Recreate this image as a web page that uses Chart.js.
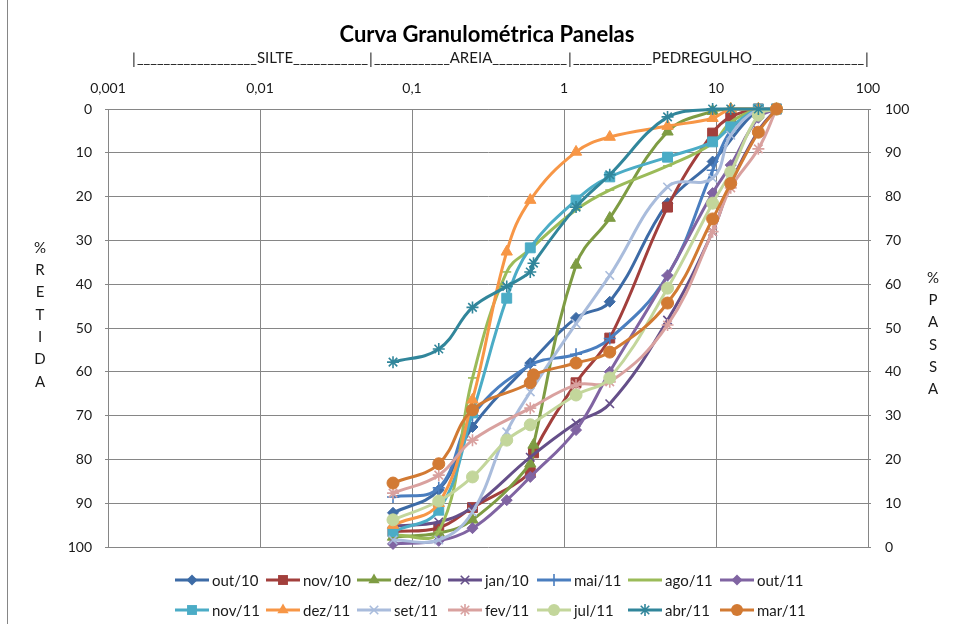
<!DOCTYPE html>
<html><head><meta charset="utf-8">
<script src="https://cdn.jsdelivr.net/npm/chart.js@4.4.1/dist/chart.umd.min.js"></script>
<style>html,body{margin:0;padding:0;background:#fff}canvas{display:block}</style>
</head><body>
<canvas id="c" width="953" height="624"></canvas>
<script>
// ---- data ----
const chartTitle = 'Curva Granulométrica Panelas';
const zoneLabels = ['SILTE', 'AREIA', 'PEDREGULHO'];
const xTicks = [0.001, 0.01, 0.1, 1, 10, 100];
const xTickLabels = ['0,001', '0,01', '0,1', '1', '10', '100'];
const leftTitle = '%RETIDA';
const rightTitle = '%PASSA';
// sieve openings (mm)
const sizes = [0.075, 0.15, 0.25, 0.42, 0.6, 0.63, 1.2, 2.0, 4.8, 9.5, 12.5, 19, 25];
const seriesNames = ['out/10','nov/10','dez/10','jan/10','mai/11','ago/11','out/11','nov/11','dez/11','set/11','fev/11','jul/11','abr/11','mar/11'];
const out10 = [92.2, 87.0, 72.6, null, 58.0, null, 47.7, 44.0, 21.5, 12.0, null, 0, 0];
const nov10 = [96.5, 95.6, 91.0, null, 83.0, 78.5, 62.5, 52.3, 22.4, 5.5, 1.8, 0, 0];
const dez10 = [97.7, 96.8, 93.8, null, 81.0, 76.7, 35.6, 24.9, 5.2, 0.5, 0, 0, 0];
const jan10 = [95.2, 94.3, 90.9, null, 79.5, null, 71.7, 67.3, 48.2, 28.0, 17.0, 5.0, 0];
const mai11 = [88.6, 86.5, 70.0, null, 58.5, null, 56.0, 52.4, 38.0, 14.0, 5.0, 0, 0];
const ago11 = [97.3, 96.5, 61.4, 37.2, 32.0, null, 23.0, 18.5, 13.0, 7.8, 3.0, 0, 0];
const out11 = [99.3, 98.6, 95.7, 89.3, 84.0, null, 73.3, 60.0, 38.0, 19.2, 12.8, 2.0, 0];
const nov11 = [96.5, 91.6, 69.4, 43.2, 31.7, null, 20.8, 15.5, 11.0, 7.5, 4.1, 0, 0];
const dez11 = [95.0, 90.0, 66.4, 32.6, 20.8, null, 9.8, 6.4, 3.9, 2.1, 0, 0, 0];
const set11 = [98.4, 98.4, 92.0, 73.7, 64.6, null, 49.0, 38.0, 17.8, 15.8, 6.0, 0, 0];
const fev11 = [87.7, 83.6, 75.6, null, 68.3, null, 63.0, 62.3, 49.3, 28.0, 18.0, 9.1, 0];
const jul11 = [93.8, 89.5, 84.0, 75.6, 72.1, null, 65.3, 61.4, 40.9, 21.5, 14.4, 1.4, 0];
const abr11 = [57.8, 54.8, 45.3, 40.5, 37.2, 35.2, 22.4, 15.0, 1.8, 0, 0, 0, 0];
const mar11 = [85.4, 81.0, 68.7, null, 62.5, 60.7, 58.0, 55.5, 44.3, 25.1, 17.0, 5.3, 0];
const seriesValues = [out10, nov10, dez10, jan10, mai11, ago11, out11, nov11, dez11, set11, fev11, jul11, abr11, mar11];

// ---- styles ----
const colors = ['#3D6BA6','#A23F3C','#7E9C43','#654F89','#4A7EBF','#9BBB59','#8064A2','#4BACC6','#F79646','#A9BCDC','#D9A19F','#C3D69B','#31869B','#D27A33'];
const markers = ['rectRot','rect','triangle','crossRot','cross','line','rectRot','rect','triangle','crossRot','star','circle','star','circle'];
const markerR = {rectRot:5.5, rect:7, triangle:6.5, crossRot:6, cross:6, line:4.5, star:6, circle:6};
const FONT = 'Lato, "Open Sans", sans-serif';
const GRID = '#868686';
const TXT = '#1a1a1a';

const datasets = seriesNames.map((name, i) => {
  const st = markers[i];
  const open = ['crossRot','cross','line','star'].includes(st);
  return {
    label: name,
    data: sizes.map((s, k) => ({x: s, y: seriesValues[i][k]})).filter(p => p.y !== null),
    borderColor: colors[i],
    backgroundColor: colors[i],
    borderWidth: 3,
    tension: 0.4,
    pointStyle: st,
    pointRadius: markerR[st],
    pointBorderWidth: open ? 1.6 : 1,
    pointBorderColor: colors[i],
    pointBackgroundColor: colors[i],
    clip: false,
    order: seriesNames.length - i
  };
});

function drawMarker(ctx, st, x, y, r, col) {
  ctx.save();
  ctx.fillStyle = col; ctx.strokeStyle = col; ctx.lineWidth = 1.6;
  ctx.beginPath();
  if (st === 'rectRot') { ctx.moveTo(x, y - r); ctx.lineTo(x + r, y); ctx.lineTo(x, y + r); ctx.lineTo(x - r, y); ctx.closePath(); ctx.fill(); }
  else if (st === 'rect') { const s = r * Math.SQRT1_2; ctx.rect(x - s, y - s, 2 * s, 2 * s); ctx.fill(); }
  else if (st === 'triangle') { ctx.moveTo(x, y - r); ctx.lineTo(x + r * 0.866, y + r * 0.5); ctx.lineTo(x - r * 0.866, y + r * 0.5); ctx.closePath(); ctx.fill(); }
  else if (st === 'circle') { ctx.arc(x, y, r, 0, Math.PI * 2); ctx.fill(); }
  else if (st === 'cross') { ctx.moveTo(x - r, y); ctx.lineTo(x + r, y); ctx.moveTo(x, y - r); ctx.lineTo(x, y + r); ctx.stroke(); }
  else if (st === 'crossRot') { const s = r * 0.707; ctx.moveTo(x - s, y - s); ctx.lineTo(x + s, y + s); ctx.moveTo(x - s, y + s); ctx.lineTo(x + s, y - s); ctx.stroke(); }
  else if (st === 'star') { const s = r * 0.707; ctx.moveTo(x - r, y); ctx.lineTo(x + r, y); ctx.moveTo(x, y - r); ctx.lineTo(x, y + r); ctx.moveTo(x - s, y - s); ctx.lineTo(x + s, y + s); ctx.moveTo(x - s, y + s); ctx.lineTo(x + s, y - s); ctx.stroke(); }
  else if (st === 'line') { ctx.moveTo(x - r, y); ctx.lineTo(x + r, y); ctx.stroke(); }
  ctx.restore();
}

const decor = {
  id: 'decor',
  beforeDraw(chart) {
    const ctx = chart.ctx;
    ctx.save(); ctx.fillStyle = '#fff'; ctx.fillRect(0, 0, chart.width, chart.height); ctx.restore();
  },
  afterDraw(chart) {
    const ctx = chart.ctx;
    const a = chart.chartArea;
    ctx.save();
    // outer frame (left edge)
    ctx.strokeStyle = GRID; ctx.lineWidth = 1;
    ctx.beginPath(); ctx.moveTo(7.5, 0); ctx.lineTo(7.5, chart.height); ctx.stroke();
    // title
    ctx.fillStyle = '#000';
    ctx.font = 'bold 22px ' + FONT;
    ctx.textAlign = 'center'; ctx.textBaseline = 'middle';
    ctx.fillText(chartTitle, 487, 35);
    // zone line
    ctx.font = '15px ' + FONT;
    ctx.fillStyle = TXT;
    ctx.textBaseline = 'alphabetic';
    const bars = [a.left + 26, a.left + 263, a.left + 462, a.right - 1];
    const centers = [a.left + 167, a.left + 363, a.left + 594];
    const by = 63;
    ctx.textAlign = 'center';
    bars.forEach(b => ctx.fillText('|', b, by + 1));
    const uw = ctx.measureText('_').width;
    const barHalf = ctx.measureText('|').width / 2 + 1;
    function fillUnderscore(x0, x1) {
      const gap = x1 - x0; if (gap <= 0) return;
      const n = Math.ceil(gap / uw);
      ctx.textAlign = 'left';
      ctx.fillText('_'.repeat(n), x0, by, gap);
    }
    zoneLabels.forEach((lab, i) => {
      const w = ctx.measureText(lab).width;
      const l = centers[i] - w / 2, r = centers[i] + w / 2;
      ctx.textAlign = 'center';
      ctx.fillText(lab, centers[i], by);
      fillUnderscore(bars[i] + barHalf, l);
      fillUnderscore(r, bars[i + 1] - barHalf);
    });
    // axis titles (stacked letters)
    ctx.font = '15px ' + FONT;
    ctx.textAlign = 'center'; ctx.textBaseline = 'middle';
    [...leftTitle].forEach((ch, i) => ctx.fillText(ch, 40, 248 + i * 22.3));
    [...rightTitle].forEach((ch, i) => ctx.fillText(ch, 933, 278 + i * 22.3));
    // legend
    ctx.font = '15px ' + FONT;
    ctx.textBaseline = 'middle'; ctx.textAlign = 'left';
    const cols = [175, 266, 357, 448, 537, 628, 720];
    const rows = [580, 610];
    seriesNames.forEach((name, i) => {
      const row = i < 7 ? 0 : 1, col = i % 7;
      const x0 = cols[col], y0 = rows[row];
      ctx.strokeStyle = colors[i]; ctx.lineWidth = 3;
      ctx.beginPath(); ctx.moveTo(x0, y0); ctx.lineTo(x0 + 34, y0); ctx.stroke();
      drawMarker(ctx, markers[i], x0 + 17, y0, markerR[markers[i]], colors[i]);
      ctx.fillStyle = TXT;
      ctx.fillText(name, x0 + 37, y0 + 1);
    });
    ctx.restore();
  }
};

const tickFont = {family: FONT, size: 14};
new Chart(document.getElementById('c'), {
  type: 'line',
  data: {datasets},
  options: {
    responsive: false, animation: false,
    layout: {padding: {top: 0, bottom: 77, left: 0, right: 0}},
    plugins: {legend: {display: false}, tooltip: {enabled: false}, title: {display: false}},
    elements: {line: {capBezierPoints: true}},
    scales: {
      x: {
        type: 'logarithmic', position: 'top', min: 0.001, max: 100,
        afterBuildTicks: s => { s.ticks = xTicks.map(v => ({value: v})); },
        afterFit: s => { s.height = 109; },
        ticks: {callback: (v, i) => xTickLabels[i], font: tickFont, color: TXT, padding: 12, maxRotation: 0, autoSkip: false},
        grid: {color: GRID, lineWidth: 1, drawTicks: false},
        border: {display: true, color: GRID}
      },
      y: {
        position: 'left', reverse: true, min: 0, max: 100,
        afterFit: s => { s.width = 108; },
        ticks: {stepSize: 10, font: tickFont, color: TXT, padding: 13},
        grid: {color: GRID, lineWidth: 1, tickLength: 3},
        border: {display: true, color: GRID}
      },
      y2: {
        position: 'right', min: 0, max: 100,
        afterFit: s => { s.width = 85; },
        ticks: {stepSize: 10, font: tickFont, color: TXT, padding: 14},
        grid: {drawOnChartArea: false, color: GRID, lineWidth: 1, tickLength: 3},
        border: {display: true, color: GRID}
      }
    }
  },
  plugins: [decor]
});
</script>
</body></html>
